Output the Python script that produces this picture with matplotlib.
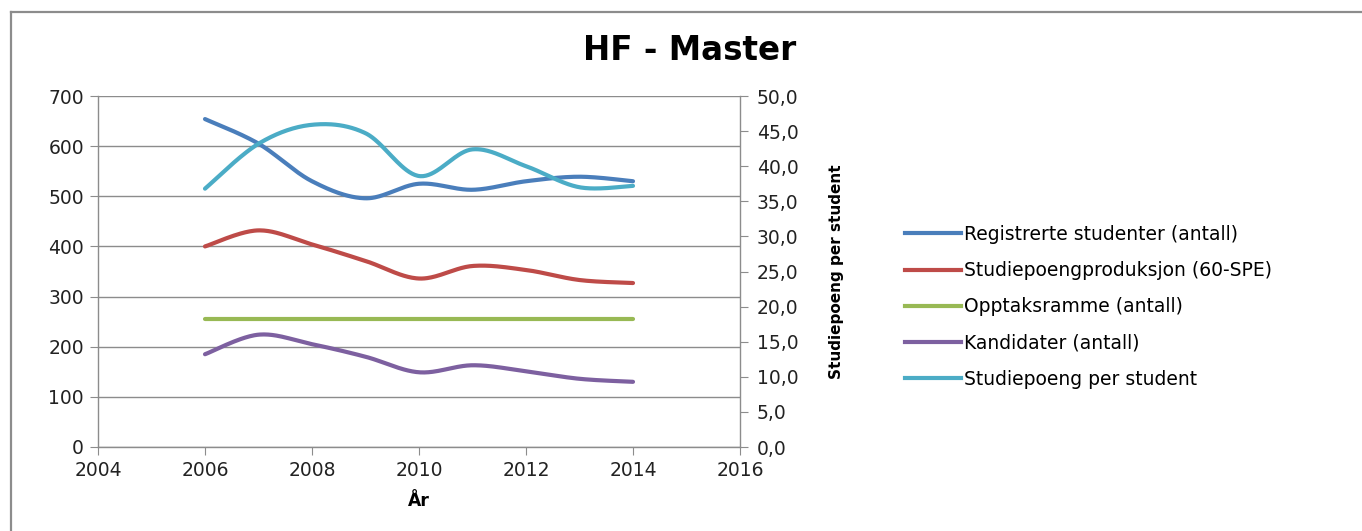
import numpy as np
import matplotlib
matplotlib.use("Agg")
import matplotlib.pyplot as plt
from matplotlib.lines import Line2D

years = [2006, 2007, 2008, 2009, 2010, 2011, 2012, 2013, 2014]
registrerte = [654, 605, 530, 496, 525, 513, 530, 539, 530]
studiepoengprod = [400, 432, 404, 371, 336, 361, 353, 333, 327]
opptaksramme = [255, 255, 255, 255, 255, 255, 255, 255, 255]
kandidater = [185, 224, 205, 180, 149, 163, 151, 136, 130]
sp_per_student = [36.8, 43.2, 45.9, 44.7, 38.6, 42.4, 40.0, 37.0, 37.2]

series_names = ["Registrerte studenter (antall)", "Studiepoengproduksjon (60-SPE)",
                "Opptaksramme (antall)", "Kandidater (antall)", "Studiepoeng per student"]
colors = ["#4A7EBB", "#BE4B48", "#98B954", "#7D60A0", "#4BACC6"]

x_ticks = [2004, 2006, 2008, 2010, 2012, 2014, 2016]
left_ticks = [0, 100, 200, 300, 400, 500, 600, 700]
right_ticks = [0, 5, 10, 15, 20, 25, 30, 35, 40, 45, 50]


def smooth(xs, ys, n=40):
    xs = np.asarray(xs, float)
    ys = np.asarray(ys, float)
    P = np.column_stack([xs, ys])
    m = len(P)
    out = []
    for i in range(m - 1):
        p0 = P[i - 1] if i > 0 else P[i]
        p1 = P[i]
        p2 = P[i + 1]
        p3 = P[i + 2] if i + 2 < m else P[i + 1]
        c1 = p1 + (p2 - p0) / 6.0
        c2 = p2 - (p3 - p1) / 6.0
        t = np.linspace(0, 1, n)[:, None]
        seg = ((1 - t) ** 3) * p1 + 3 * ((1 - t) ** 2) * t * c1 + 3 * (1 - t) * t ** 2 * c2 + t ** 3 * p2
        out.append(seg if i == 0 else seg[1:])
    arr = np.vstack(out)
    return arr[:, 0], arr[:, 1]


W, H = 1362, 531
fig = plt.figure(figsize=(W / 100, H / 100), dpi=100)
fig.patch.set_facecolor("white")

# outer chart border (left and top visible)
fig.add_artist(Line2D([11 / W, 11 / W], [0, 1 - 12 / H], transform=fig.transFigure, color="#8C8C8C", lw=1.6))
fig.add_artist(Line2D([11 / W, 1], [1 - 12 / H, 1 - 12 / H], transform=fig.transFigure, color="#8C8C8C", lw=1.6))

L, R, T, B = 98, 740, 96, 447
ax = fig.add_axes([L / W, 1 - B / H, (R - L) / W, (B - T) / H])
ax2 = ax.twinx()

grid_c = "#8C8C8C"
tick_font = dict(family="DejaVu Sans", size=13.5)

lw = 3.0
for vals, name, c in zip([registrerte, studiepoengprod, opptaksramme, kandidater],
                         series_names[:4], colors[:4]):
    sx, sy = smooth(years, vals)
    ax.plot(sx, sy, color=c, lw=lw, solid_capstyle="round", label=name)
sx, sy = smooth(years, sp_per_student)
ax2.plot(sx, sy, color=colors[4], lw=lw, solid_capstyle="round", label=series_names[4])

ax.set_xlim(2004, 2016)
ax.set_ylim(0, 700)
ax2.set_ylim(0, 50)
ax.set_xticks(x_ticks)
ax.set_xticklabels([str(v) for v in x_ticks], **tick_font)
ax.set_yticks(left_ticks)
ax.set_yticklabels([str(v) for v in left_ticks], **tick_font)
ax2.set_yticks(right_ticks)
ax2.set_yticklabels([f"{v:.1f}".replace(".", ",") for v in right_ticks], **tick_font)

ax.grid(axis="y", color=grid_c, lw=1.0)
ax.set_axisbelow(True)
for a in (ax, ax2):
    for s in a.spines.values():
        s.set_visible(False)
ax.spines["left"].set_visible(True)
ax.spines["bottom"].set_visible(True)
ax2.spines["right"].set_visible(True)
for sp in [ax.spines["left"], ax.spines["bottom"], ax2.spines["right"]]:
    sp.set_color(grid_c)
    sp.set_linewidth(1.0)

ax.tick_params(axis="y", direction="out", length=6, color=grid_c, pad=4, labelcolor="#222222")
ax.tick_params(axis="x", direction="out", length=6, color=grid_c, pad=4, labelcolor="#222222")
ax2.tick_params(axis="y", direction="out", length=6, color=grid_c, pad=6, labelcolor="#222222")

ax.set_xlabel("År", family="DejaVu Sans", weight="bold", size=12.5, labelpad=9)
ax2.set_ylabel("Studiepoeng per student", family="DejaVu Sans", weight="bold", size=11, labelpad=22)

fig.text(690 / W, 1 - 50 / H, "HF - Master", ha="center", va="center",
         family="DejaVu Sans", weight="bold", size=23.5)

handles = [Line2D([0], [0], color=c, lw=lw) for c in colors]
fig.legend(handles, series_names, loc="upper left", bbox_to_anchor=(905 / W, 1 - 225 / H),
           frameon=False, prop=dict(family="DejaVu Sans", size=13.5), handlelength=3.0,
           handletextpad=0.15, labelspacing=0.92, borderpad=0, borderaxespad=0)

fig.savefig("out.png", dpi=100, facecolor="white")
